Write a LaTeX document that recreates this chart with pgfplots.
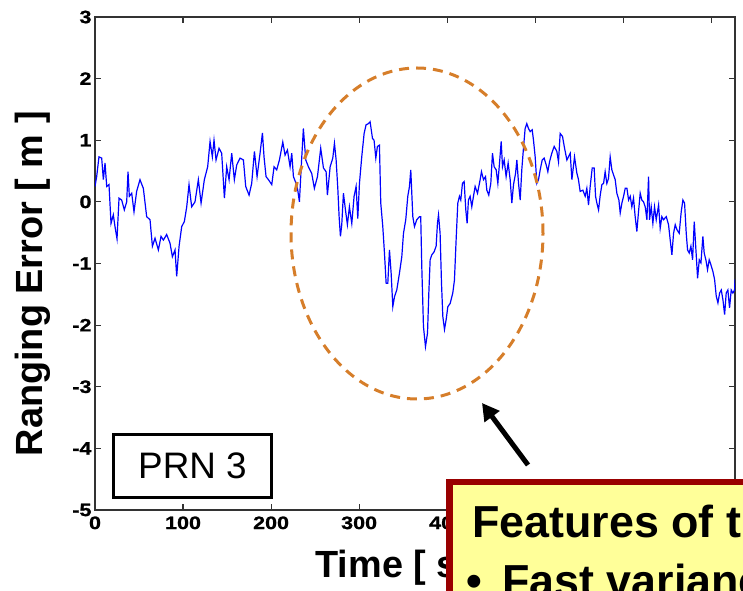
\documentclass[border=0pt]{standalone}
\usepackage{pgfplots}
\pgfplotsset{compat=1.18}
\usepackage{fontspec}
\setmainfont{Liberation Sans}
\newfontfamily\tickfont[FakeStretch=1.2,FakeBold=1.2]{Liberation Sans}
\usetikzlibrary{arrows.meta}
\definecolor{ellorange}{RGB}{214,126,42}
\definecolor{boxred}{RGB}{153,0,0}
\definecolor{boxyellow}{RGB}{255,255,153}
\begin{document}
\begin{tikzpicture}
\useasboundingbox (0,0) rectangle (743bp,591bp);
\clip (0,0) rectangle (743bp,591bp);
\begin{axis}[
  at={(95bp,81bp)}, anchor=south west,
  scale only axis, width=640bp, height=493bp,
  xmin=0, xmax=727, ymin=-5, ymax=3,
  xtick={0,100,...,700}, xticklabels={0,100,200,300,400,,,},
  ytick={-5,-4,...,3},
  tick align=inside, major tick length=6bp,
  xtick pos=both, ytick pos=both,
  axis line style={line width=1.3bp, black!80},
  every tick/.style={black!80, line width=1.1bp},
  ticklabel style={font=\tickfont\bfseries\fontsize{18}{18}\selectfont},
  /pgf/number format/assume math mode=true,
  xticklabel style={yshift=-3bp},
  xlabel={Time [ s ]}, ylabel={Ranging Error [ m ]},
  label style={font=\bfseries\fontsize{38}{38}\selectfont},
  xlabel style={at={(axis description cs:0.339,-0.136)}, anchor=base west},
  ylabel style={at={(axis description cs:-0.0813,0.459)}, anchor=base},
]
\addplot[blue, line width=1.2bp, mark=none] table {
x y
0 0.25
1.9 0.41
4.5 0.73
7.6 0.71
9.5 0.36
11.4 0.63
13.3 0.25
15.9 0.28
18.2 -0.35
20.8 -0.21
22.7 -0.40
25 -0.60
27.3 0.06
30.3 0.03
33.3 -0.13
36 0.0
37.5 0.49
39 0.09
41.7 0.14
44.3 -0.16
47.3 0.17
51.1 0.36
54.9 0.22
58.7 -0.24
62.5 -0.29
65.2 -0.72
68.2 -0.59
72 -0.78
75 -0.56
77.7 -0.62
81.4 -0.53
85.2 -0.67
87.9 -0.89
90.9 -0.78
92.8 -1.21
95.5 -0.72
98.5 -0.40
101.5 -0.32
104.2 -0.08
106.8 0.28
109.8 -0.08
113.6 0.0
117.4 0.36
120.5 -0.02
124.2 0.36
128 0.57
130.7 0.98
133.3 0.73
135.2 1.0
137.5 0.68
140.9 0.87
143.9 0.79
147 0.06
149.6 0.57
152.3 0.36
155.3 0.79
158.3 0.36
161 0.60
164.8 0.71
168.6 0.68
171.2 0.25
175 0.11
178 0.30
181.1 0.82
184.1 0.41
187.5 0.79
190.2 1.12
192 0.73
194.3 0.41
197 0.36
200.8 0.28
203.4 0.57
206.4 0.52
209.5 0.68
213.3 0.97
215.9 0.76
218.6 0.84
221.6 0.57
223.5 0.79
225.4 0.41
228.4 0.30
230.3 0.19
232.2 0.0
234.5 0.63
236.7 1.19
239.4 0.68
242.4 0.57
246.2 0.46
249.2 0.22
252.7 0.41
256.4 0.87
259.5 0.55
262.5 0.49
264 0.11
267.1 0.57
270.1 0.71
272 0.95
273.9 0.68
275.8 0.22
277.3 -0.24
278.8 -0.56
280.3 -0.37
282.2 0.14
284.5 -0.13
286.7 -0.37
289 -0.08
291.7 -0.35
294.3 0.09
296.6 0.25
298.5 -0.27
300.4 0.30
303 0.73
305.7 1.11
307.9 1.25
310.6 1.27
312.5 1.30
315.2 1.03
317 1.0
319 0.71
320.8 0.90
323.1 0.92
324.6 -0.02
326.9 -0.40
328.8 -0.83
330.7 -1.32
332.6 -1.32
334.5 -0.78
336.4 -1.16
338.3 -1.70
340.2 -1.54
342.8 -1.43
345.8 -1.16
348.5 -0.89
350.4 -0.51
353 -0.29
355.3 0.09
357.2 0.25
358.7 0.52
361 -0.24
362.9 -0.40
365.5 -0.29
368.6 -0.24
370 -0.24
371.2 -1.05
373.1 -2.02
375.4 -2.35
377.7 -2.13
379.2 -1.48
380.7 -0.94
382.6 -0.86
385.2 -0.81
387.5 -0.72
389 -0.35
390.2 -0.21
392 -0.51
393.6 -1.32
395.1 -1.86
397 -2.07
398.9 -1.91
400.8 -1.70
403.4 -1.65
406.4 -1.48
408.3 -1.27
410.2 -0.62
412.1 -0.02
414 0.09
415.5 0.03
417.4 0.30
419.3 0.33
421.2 -0.13
422.7 -0.35
424.2 0.03
426.1 0.09
428 -0.08
429.9 0.09
431.8 0.25
434.5 0.14
437.5 0.36
439 0.49
441.3 0.36
443.6 0.41
445.1 0.19
447.3 0.11
449.6 0.30
451.5 0.79
453.4 0.57
455.7 0.52
457.6 0.30
459.5 0.63
461.4 0.98
462.9 0.57
464.8 0.68
467 0.41
469.3 0.63
471.6 0.36
473.5 -0.02
475.4 0.28
477.7 0.46
479.2 0.68
481.1 0.30
483 0.03
484.8 0.52
486.7 0.87
488.6 1.19
490.5 1.27
492.4 1.19
494.3 1.14
496.6 1.17
498.1 1.0
500 0.73
501.9 0.30
503.8 0.36
505.7 0.52
508 0.68
510.2 0.71
512.5 0.60
514.4 0.49
516.3 0.65
518.9 0.79
521.6 0.90
524.6 0.82
526.5 0.65
528.4 1.11
531.1 1.06
533 0.90
536 0.68
539.8 0.79
541.7 0.36
544.7 0.73
547.3 0.47
549.2 0.36
551.1 0.17
554.2 0.19
556.8 0.09
558.7 0.22
560.6 -0.05
562.5 0.25
564.8 0.55
567 0.55
568.6 0.09
570.1 -0.02
572 -0.13
573.9 0.11
575.8 0.28
577.7 0.30
579.5 0.49
581.4 0.30
583.3 0.38
585.2 0.73
587.1 0.52
589 0.44
590.9 0.36
592.8 0.14
595.1 0.03
596.6 -0.18
598.5 -0.02
600.4 0.09
602.3 0.22
604.2 0.22
606.1 0.03
608 0.09
609.8 -0.08
611.7 0.06
613.6 -0.24
615.5 -0.48
617.4 -0.16
619.3 0.14
621.2 0.03
623.1 0.0
625 -0.08
626.9 -0.29
628.8 0.41
629.9 -0.29
631.8 -0.08
633.7 -0.35
635.6 -0.08
637.5 -0.29
640.2 -0.05
642 -0.43
643.9 -0.24
645.8 -0.29
648.9 -0.24
651.5 -0.37
653.4 -0.62
655.3 -0.86
657.2 -0.51
659.1 -0.37
661 -0.45
663.6 -0.51
665.9 -0.16
667.8 0.03
669.7 -0.02
671.6 -0.51
673.1 -0.78
675 -0.83
676.9 -0.72
678.8 -0.94
680.7 -0.32
682.6 -0.78
684.5 -1.24
686.4 -0.94
688.3 -0.99
690.5 -0.56
692 -0.83
693.9 -0.94
695.8 -1.10
697.7 -0.94
699.6 -1.02
701.9 -1.13
703.8 -1.26
705.7 -1.53
707.6 -1.64
709.5 -1.48
711.4 -1.43
713.3 -1.59
715.2 -1.83
717 -1.48
718.9 -1.43
720.8 -1.72
722.7 -1.43
724.6 -1.48
726.5 -1.43
727 -1.26
};
\end{axis}
% annotations
\draw[ellorange, line width=3bp, dash pattern=on 10bp off 7bp] (417bp,357.5bp) ellipse [x radius=126bp, y radius=165.5bp];
\draw[line width=5bp, -{Triangle[length=17bp,width=18bp]}] (528bp,126bp) -- (482bp,188bp);
\node[draw, line width=3bp, minimum width=158bp, minimum height=63bp, inner sep=0pt,
      font=\fontsize{37}{37}\selectfont] at (192.5bp,125bp) {PRN 3};
\filldraw[draw=boxred, fill=boxyellow, line width=6.5bp] (449.25bp,108.75bp) rectangle (780bp,-60bp);
\node[anchor=base west, inner sep=0pt, font=\bfseries\fontsize{45}{45}\selectfont] at (472bp,53bp) {Features of the};
\node[anchor=base west, inner sep=0pt, font=\bfseries\fontsize{45}{45}\selectfont] at (466bp,-5bp) {•};
\node[anchor=base west, inner sep=0pt, font=\bfseries\fontsize{45}{45}\selectfont] at (502bp,-5bp) {Fast variance};
\end{tikzpicture}
\end{document}
